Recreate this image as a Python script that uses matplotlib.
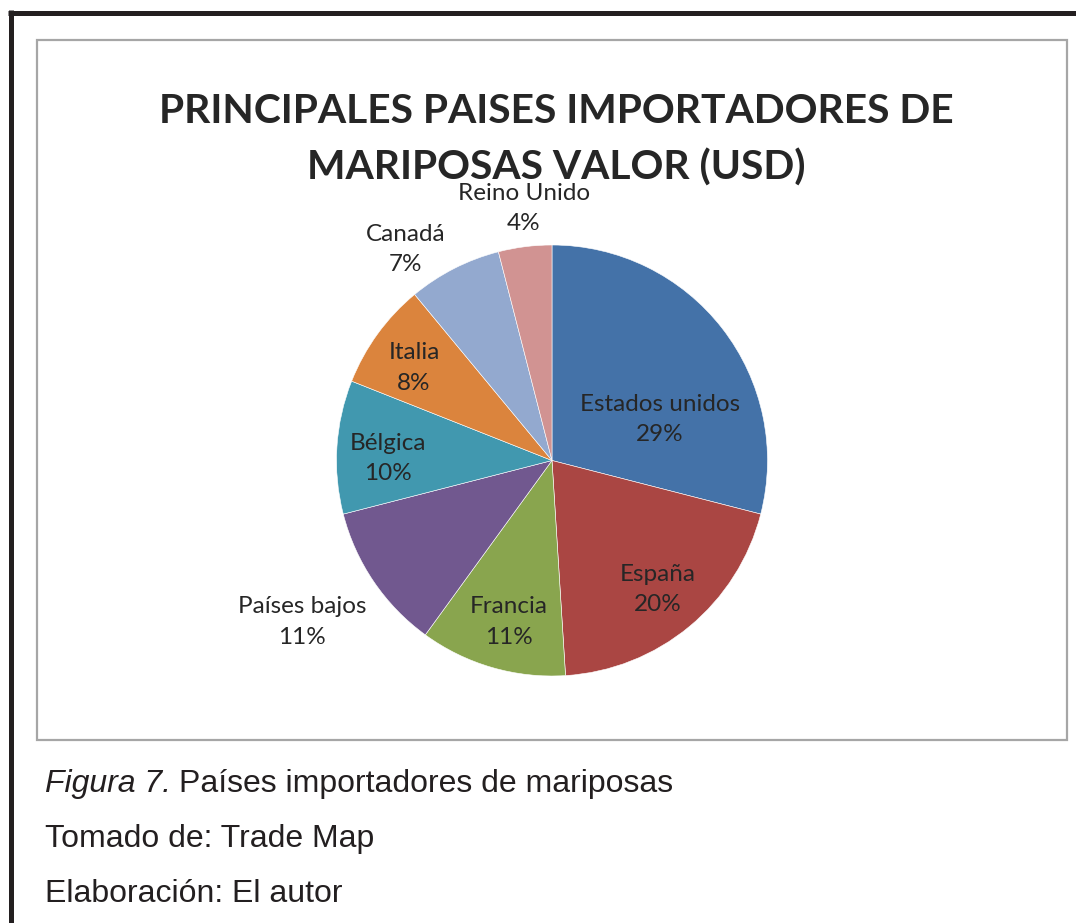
import matplotlib.pyplot as plt
from matplotlib.patches import Rectangle

# data
paises = ["Estados unidos", "España", "Francia", "Países bajos",
          "Bélgica", "Italia", "Canadá", "Reino Unido"]
porcentajes = [29, 20, 11, 11, 10, 8, 7, 4]
colores = ["#4472A8", "#AA4643", "#89A54E", "#71588F",
           "#4198AF", "#DB843D", "#93A9CF", "#D19392"]

titulo = "PRINCIPALES PAISES IMPORTADORES DE\nMARIPOSAS VALOR (USD)"
caption = ["Tomado de: Trade Map", "Elaboración: El autor"]

# label positions relative to pie centre, in units of radius
label_pos = [(0.50, 0.19), (0.49, -0.60), (-0.20, -0.75), (-1.16, -0.75),
             (-0.76, 0.01), (-0.64, 0.43), (-0.68, 0.98), (-0.13, 1.17)]

W, H = 1076, 923
fig = plt.figure(figsize=(W / 100, H / 100), dpi=100)
ax = fig.add_axes([0, 0, 1, 1])
ax.set_xlim(0, W)
ax.set_ylim(0, H)
ax.set_aspect("equal")
ax.axis("off")

def Y(y):
    return H - y

# page borders
ax.plot([8, W], [Y(12.5), Y(12.5)], color="#231f20", lw=3.6, solid_capstyle="butt")
ax.plot([10.5, 10.5], [Y(10), 0], color="#231f20", lw=3.6, solid_capstyle="butt")
ax.add_patch(Rectangle((37, Y(740)), 1067 - 37, 740 - 40, fill=False,
                       edgecolor="#a6a6a6", lw=1.6))

# pie
cx, cy, R = 552, Y(460.5), 215.5
ax.pie(porcentajes, colors=colores, startangle=90, counterclock=False,
       center=(cx, cy), radius=R, frame=True,
       wedgeprops=dict(edgecolor="white", linewidth=0.4))
ax.set_xlim(0, W)
ax.set_ylim(0, H)
ax.axis("off")

for name, p, (dx, dy) in zip(paises, porcentajes, label_pos):
    ax.text(cx + dx * R, cy + dy * R, f"{name}\n{p}%", ha="center", va="center",
            fontsize=17.5, family="Lato", color="#262626", linespacing=1.55)

ax.text(556, Y(123), titulo.split("\n")[0], ha="center", va="baseline",
        fontsize=29.3, family="Lato", fontweight="bold", color="#262626")
ax.text(556, Y(180), titulo.split("\n")[1], ha="center", va="baseline",
        fontsize=29.3, family="Lato", fontweight="bold", color="#262626")

# caption
t = ax.text(45, Y(792), "Figura 7.", ha="left", va="baseline", fontsize=23,
            family="Liberation Sans", style="italic", color="#231f20")
fig.canvas.draw()
bb = t.get_window_extent()
ax.text(bb.x1 + 8, Y(792), "Países importadores de mariposas", ha="left",
        va="baseline", fontsize=23, family="Liberation Sans", color="#231f20")
for i, line in enumerate(caption):
    ax.text(45, Y(847 + 55 * i), line, ha="left", va="baseline", fontsize=23,
            family="Liberation Sans", color="#231f20")

fig.savefig("out.png", dpi=100)
